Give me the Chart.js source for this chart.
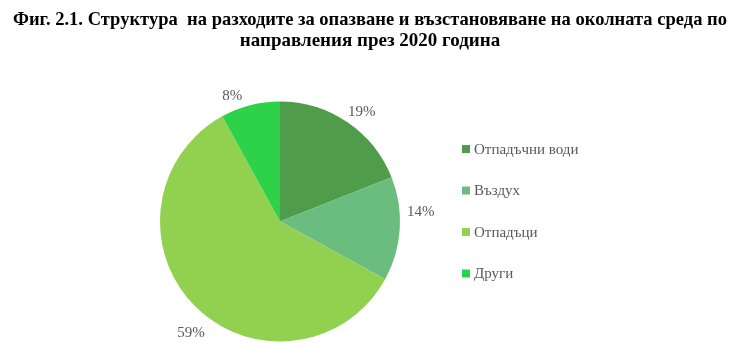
<!DOCTYPE html>
<html>
<head>
<meta charset="utf-8">
<script src="https://cdn.jsdelivr.net/npm/chart.js@4/dist/chart.umd.min.js"></script>
<style>
  html, body { margin: 0; padding: 0; background: #fff; }
  #wrap { width: 740px; height: 363px; }
</style>
</head>
<body>
<div id="wrap"><canvas id="pieChart" width="740" height="363"></canvas></div>
<script>
// Data
const categories = ['Отпадъчни води', 'Въздух', 'Отпадъци', 'Други'];
const shares = [19, 14, 59, 8];
const sliceColors = ['#4f9d4b', '#6bbd7f', '#92d050', '#2ed248'];
const titleLines = [
  'Фиг. 2.1. Структура  на разходите за опазване и възстановяване на околната среда по',
  'направления през 2020 година'
];

const textGrey = '#595959';
const serif = '"Liberation Serif", "Times New Roman", serif';
// small nudges so the % labels sit where the original put them
const labelNudge = [[3, 6], [1, -18], [10, 13], [-13, 10]];

// title, percent labels outside the slices, legend on the right
const pieExtras = {
  id: 'pieExtras',
  afterDraw(chart) {
    const ctx = chart.ctx;
    const meta = chart.getDatasetMeta(0);
    ctx.save();

    ctx.fillStyle = '#000';
    ctx.font = 'bold 19px ' + serif;
    ctx.textAlign = 'center';
    ctx.textBaseline = 'middle';
    ctx.fillText(titleLines[0], 370, 20, 714);
    ctx.fillText(titleLines[1], 370, 41, 714);

    ctx.font = '15px ' + serif;
    ctx.fillStyle = textGrey;
    meta.data.forEach((arc, i) => {
      const mid = (arc.startAngle + arc.endAngle) / 2;
      const r = arc.outerRadius + 20;
      ctx.fillText(shares[i] + '%',
        arc.x + Math.cos(mid) * r + labelNudge[i][0],
        arc.y + Math.sin(mid) * r + labelNudge[i][1]);
    });

    // legend
    const lx = 462, ly = 149, step = 41.5;
    ctx.textAlign = 'left';
    categories.forEach((c, i) => {
      const y = ly + i * step;
      ctx.fillStyle = sliceColors[i];
      ctx.fillRect(lx, y - 4, 8, 8);
      ctx.fillStyle = textGrey;
      ctx.fillText(c, lx + 12, y + 1);
    });
    ctx.restore();
  }
};

const ctx = document.getElementById('pieChart').getContext('2d');
new Chart(ctx, {
  type: 'pie',
  data: {
    labels: categories,
    datasets: [{ data: shares, backgroundColor: sliceColors, borderWidth: 0 }]
  },
  options: {
    responsive: false,
    animation: false,
    layout: { padding: { left: 160, right: 340, top: 101, bottom: 21 } },
    plugins: {
      legend: { display: false },
      tooltip: { enabled: false },
      title: { display: false }
    }
  },
  plugins: [pieExtras]
});
</script>
</body>
</html>
